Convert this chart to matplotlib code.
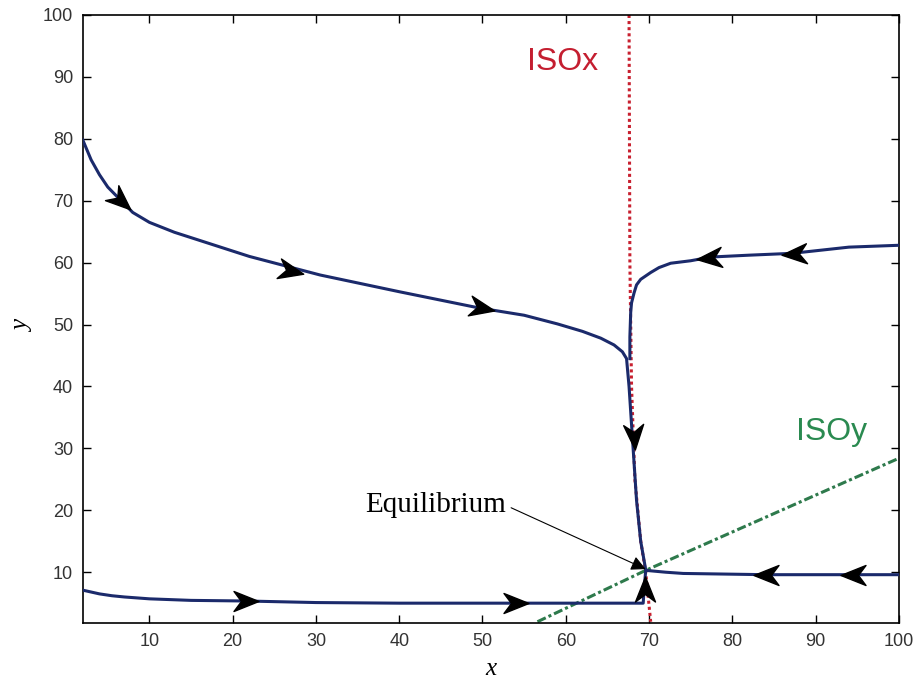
import numpy as np
import matplotlib
matplotlib.use("Agg")
import matplotlib.pyplot as plt
from matplotlib.path import Path
from matplotlib.markers import MarkerStyle
from matplotlib.transforms import Affine2D

# trajectories
top_x = [2, 3, 4, 5, 6.6, 8, 10, 13, 16, 22, 30.5, 40, 49.5, 55, 59, 62, 64.2,
         65.8, 66.8, 67.3, 67.6, 68.0, 68.5, 69.0, 69.6]
top_y = [79.8, 76.6, 74.2, 72.2, 70, 68.1, 66.5, 64.9, 63.6, 61, 58, 55.3, 52.7,
         51.5, 50.1, 48.9, 47.8, 46.7, 45.6, 44.5, 40, 31.8, 21.6, 15, 10.4]

right_x = [100, 94, 87.2, 82, 77.4, 75, 72.6, 71.2, 70.2, 69.0, 68.5, 68.2, 67.9,
           67.8, 67.7, 67.7]
right_y = [62.8, 62.5, 61.5, 61.2, 60.9, 60.3, 59.9, 59.2, 58.4, 57.3, 56.4, 55.1,
           53.5, 52, 48, 44.5]

low_x = [2, 3, 4, 5.5, 7, 10, 15, 21.6, 30, 40, 54, 69.3, 69.4, 69.6]
low_y = [7.1, 6.8, 6.5, 6.2, 6.0, 5.7, 5.45, 5.35, 5.1, 5.0, 5.0, 5.0, 7.1, 10.3]

eq_x = [100, 94.5, 84, 74.1, 72, 69.6]
eq_y = [9.6, 9.6, 9.6, 9.8, 10.0, 10.3]

# isoclines
isox_x = [67.6, 67.7, 67.9, 68.3, 69.0, 69.6, 70.2]
isox_y = [100, 60, 40, 25, 15, 10, 2]
isoy_x = [56.6, 69.6, 100]
isoy_y = [2, 10.3, 28.4]

# direction arrows: position and direction
arr_x = [6.6, 27, 50, 68.2, 77.2, 87.4, 21.6, 54, 69.5, 84, 94.5]
arr_y = [70, 58.7, 52.6, 31.8, 60.8, 61.4, 5.4, 5.0, 7.3, 9.6, 9.6]
arr_dx = [1, 1, 1, 0.05, -1, -1, 1, 1, 0, -1, -1]
arr_dy = [-1.2, -0.3, -0.27, -1, -0.12, -0.08, 0, 0, 1, 0, 0]

blue = "#1b2a6b"

fig = plt.figure(figsize=(9.2, 6.79), dpi=100)
ax = fig.add_axes([0.090, 0.0825, 0.887, 0.8955])
ax.set_xlim(2, 100)
ax.set_ylim(1.8, 100)

ax.plot(isox_x, isox_y, color="#c8202f", lw=2.2, linestyle=(0, (1, 1)), zorder=2)
ax.plot(isoy_x, isoy_y, color="#2e7a4c", lw=2.2, linestyle=(0, (3, 1, 1, 1)), zorder=2)

for xs, ys in [(top_x, top_y), (right_x, right_y), (low_x, low_y), (eq_x, eq_y)]:
    ax.plot(xs, ys, color=blue, lw=2.2, zorder=3, solid_joinstyle="round")

# stealth arrowhead pointing along +x
head = Path([(1, 0), (-1, 0.8), (-0.4, 0), (-1, -0.8), (1, 0)],
            [Path.MOVETO, Path.LINETO, Path.LINETO, Path.LINETO, Path.CLOSEPOLY])
for x, y, dx, dy in zip(arr_x, arr_y, arr_dx, arr_dy):
    p0 = ax.transData.transform((x, y))
    p1 = ax.transData.transform((x + dx, y + dy))
    ang = np.degrees(np.arctan2(p1[1] - p0[1], p1[0] - p0[0]))
    m = MarkerStyle(head, transform=Affine2D().rotate_deg(ang))
    ax.plot([x], [y], marker=m, markersize=18, color="black", zorder=4)

ax.annotate("Equilibrium", xy=(69.6, 10.5), xytext=(52.8, 20.8),
            ha="right", va="center", fontsize=21, family="Liberation Serif",
            arrowprops=dict(arrowstyle="-|>", color="black", lw=0.8, relpos=(1, 0.5),
                            mutation_scale=22, shrinkA=2, shrinkB=0))

ax.text(55.4, 92.4, "ISOx", color="#c41e30", fontsize=23, family="Liberation Sans",
        ha="left", va="center")
ax.text(87.6, 32.6, "ISOy", color="#2a8a50", fontsize=23, family="Liberation Sans",
        ha="left", va="center")

ax.set_xticks(np.arange(10, 101, 10))
ax.set_yticks(np.arange(10, 101, 10))
ax.tick_params(direction="in", length=6, width=1, top=True, right=True,
               labelsize=13, labelcolor="#333333", pad=7)
for lab in ax.get_xticklabels() + ax.get_yticklabels():
    lab.set_family("Liberation Sans")
for s in ax.spines.values():
    s.set_linewidth(1.2)

ax.set_xlabel("x", family="Liberation Serif", style="italic", fontsize=18)
ax.set_ylabel("y", family="Liberation Serif", style="italic", fontsize=18)
ax.xaxis.set_label_coords(0.5, -0.058)
ax.yaxis.set_label_coords(-0.06, 0.487)

fig.savefig("out.png", dpi=100)
